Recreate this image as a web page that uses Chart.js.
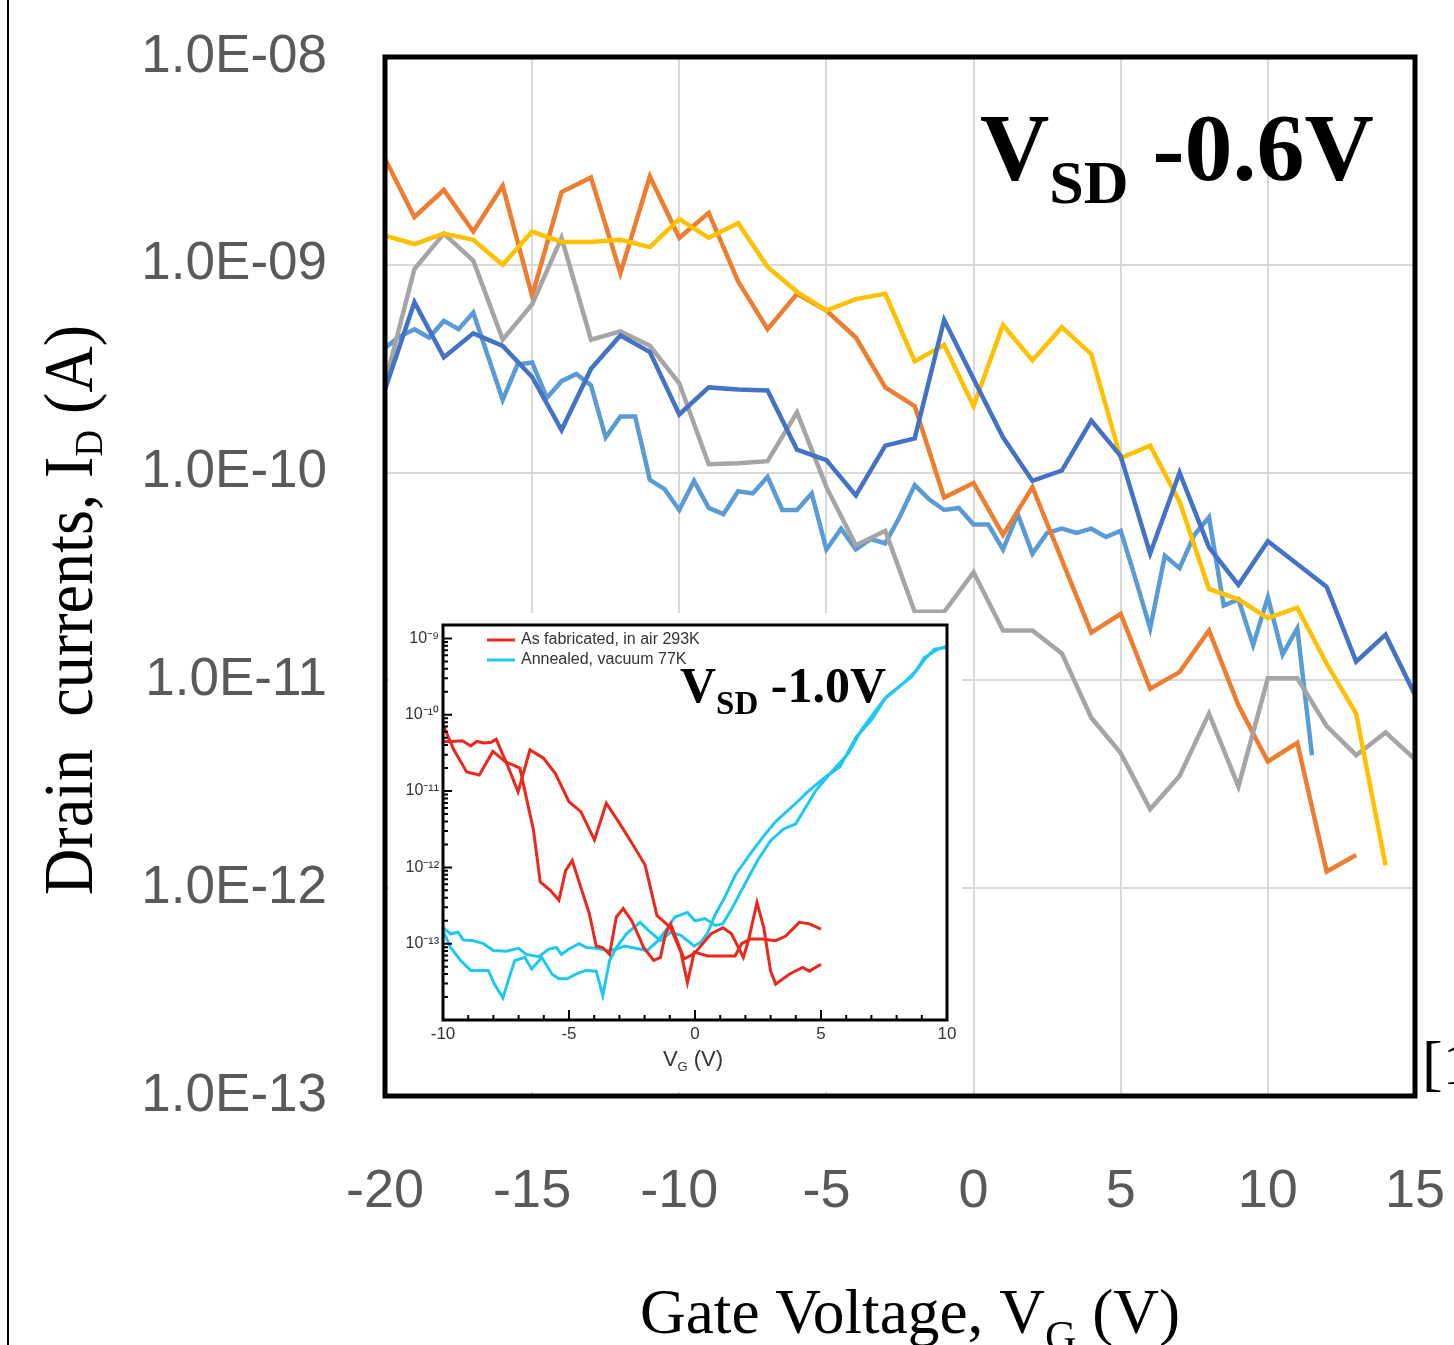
<!DOCTYPE html>
<html lang="en">
<head>
<meta charset="UTF-8" />
<title>Drain current vs gate voltage</title>
<script src="https://cdn.jsdelivr.net/npm/chart.js"></script>
<style>
  html, body { margin: 0; padding: 0; background: #fff; }
  #wrap { position: relative; width: 1454px; height: 1345px; overflow: hidden; }
  #mainChart { position: absolute; left: 0; top: 0; }
  #insetChart { position: absolute; left: 389px; top: 613px; background: #fff; }
</style>
</head>
<body>
<div id="wrap">
  <canvas id="mainChart" width="1454" height="1345"></canvas>
  <canvas id="insetChart" width="573" height="479"></canvas>
</div>
<script>
// ---- main chart data (log10 of drain current, A) ----
var vgSteps = [-20,-19,-18,-17,-16,-15,-14,-13,-12,-11,-10,-9,-8,-7,-6,-5,-4,-3,-2,-1,0,1,2,3,4,5,6,7,8,9,10,11,12,13,14,15];
var vgHalfSteps = [-20,-19.5,-19,-18.5,-18,-17.5,-17,-16.5,-16,-15.5,-15,-14.5,-14,-13.5,-13,-12.5,-12,-11.5,-11,-10.5,
  -10,-9.5,-9,-8.5,-8,-7.5,-7,-6.5,-6,-5.5,-5,-4.5,-4,-3.5,-3,-2.5,-2,-1.5,-1,-0.5,
  0,0.5,1,1.5,2,2.5,3,3.5,4,4.5,5,5.5,6,6.5,7,7.5,8,8.5,9,9.5,10,10.5,11,11.5];

var logIdOrange = [-8.49,-8.77,-8.64,-8.84,-8.62,-9.15,-8.65,-8.58,-9.04,-8.575,-8.87,-8.75,-9.08,-9.31,-9.14,-9.22,-9.35,-9.59,
  -9.68,-10.12,-10.05,-10.30,-10.07,-10.42,-10.77,-10.68,-11.04,-10.96,-10.76,-11.12,-11.39,-11.30,-11.92,-11.84];
var logIdYellow = [-8.86,-8.90,-8.85,-8.88,-9.00,-8.84,-8.89,-8.89,-8.88,-8.915,-8.78,-8.87,-8.80,-9.01,-9.13,-9.22,-9.165,-9.14,
  -9.465,-9.385,-9.68,-9.29,-9.46,-9.30,-9.43,-9.93,-9.87,-10.14,-10.56,-10.61,-10.70,-10.65,-10.92,-11.16,-11.89];
var logIdGray = [-9.57,-9.02,-8.85,-8.98,-9.36,-9.19,-8.87,-9.36,-9.32,-9.39,-9.57,-9.96,-9.955,-9.945,-9.71,-10.07,-10.35,-10.28,
  -10.67,-10.67,-10.48,-10.76,-10.76,-10.87,-11.18,-11.35,-11.62,-11.46,-11.16,-11.51,-10.99,-10.99,-11.22,-11.36,-11.25,-11.38];
var logIdDarkBlue = [-9.60,-9.18,-9.445,-9.33,-9.39,-9.54,-9.795,-9.50,-9.34,-9.42,-9.72,-9.59,-9.60,-9.605,-9.89,-9.94,-10.11,-9.87,
  -9.835,-9.265,-9.55,-9.83,-10.04,-9.99,-9.75,-9.92,-10.39,-10.00,-10.36,-10.54,-10.33,-10.44,-10.55,-10.91,-10.78,-11.07];
var logIdLightBlue = [-9.40,-9.345,-9.31,-9.35,-9.27,-9.31,-9.23,-9.44,-9.65,-9.48,
  -9.47,-9.64,-9.56,-9.525,-9.58,-9.83,-9.73,-9.73,-10.035,-10.08,
  -10.18,-10.04,-10.17,-10.20,-10.09,-10.10,-10.02,-10.18,-10.18,-10.10,
  -10.37,-10.27,-10.37,-10.32,-10.34,-10.21,-10.06,-10.13,-10.18,-10.17,
  -10.25,-10.25,-10.37,-10.20,-10.39,-10.29,-10.27,-10.29,-10.27,-10.31,
  -10.28,-10.51,-10.75,-10.40,-10.46,-10.30,-10.215,-10.64,-10.61,-10.83,
  -10.60,-10.875,-10.75,-11.36];

var xTickValues = [-20,-15,-10,-5,0,5,10,15];
var yTickValues = [1e-13,1e-12,1e-11,1e-10,1e-9,1e-8];
var yTickLabels = ["1.0E-13","1.0E-12","1.0E-11","1.0E-10","1.0E-09","1.0E-08"];

// ---- inset data: [V_G, log10 I_D] ----
var redSweepA = [[-10,-10.35],[-9.64,-10.35],[-9.23,-10.34],[-8.9,-10.41],[-8.66,-10.35],[-8.36,-10.37],[-8.09,-10.36],
  [-7.89,-10.32],[-7.42,-10.68],[-7.02,-11.01],[-6.55,-10.46],[-6.01,-10.57],[-5.54,-10.77],[-5.0,-11.14],[-4.53,-11.27],
  [-3.99,-11.64],[-3.52,-11.16],[-2.98,-11.43],[-2.45,-11.71],[-1.98,-11.97],[-1.51,-12.63],[-0.97,-12.79],[-0.56,-13.11],
  [-0.3,-13.51],[-0.03,-13.11],[0.51,-13.16],[1.59,-13.16],[1.85,-13.0],[2.19,-12.94],[2.66,-12.94],[3.2,-12.96],
  [3.6,-12.90],[4.14,-12.72],[4.54,-12.74],[5.0,-12.81]];
var redSweepB = [[-10,-10.13],[-9.57,-10.46],[-9.06,-10.75],[-8.56,-10.79],[-8.02,-10.48],[-7.55,-10.61],[-6.95,-10.70],
  [-6.61,-11.21],[-6.41,-11.51],[-6.14,-12.19],[-5.74,-12.30],[-5.40,-12.43],[-5.13,-12.04],[-4.87,-11.91],[-4.60,-12.19],
  [-4.19,-12.61],[-3.92,-13.03],[-3.66,-13.05],[-3.39,-13.14],[-3.12,-12.65],[-2.85,-12.54],[-2.51,-12.70],[-2.18,-12.94],
  [-2.04,-13.05],[-1.64,-13.22],[-1.37,-13.18],[-1.17,-12.87],[-0.97,-12.74],[-0.43,-13.20],[-0.03,-13.13],[0.64,-12.87],
  [1.11,-12.79],[1.45,-12.87],[1.92,-13.18],[2.12,-12.96],[2.46,-12.46],[2.73,-12.79],[3.0,-13.36],[3.2,-13.53],
  [3.74,-13.40],[4.27,-13.31],[4.54,-13.36],[5.0,-13.27]];
var cyanSweepA = [[-10,-12.79],[-9.7,-12.87],[-9.4,-12.85],[-9.2,-12.95],[-8.8,-12.96],[-8.4,-13.0],[-8.0,-13.09],[-7.5,-13.10],
  [-7.0,-13.06],[-6.7,-13.14],[-6.2,-13.17],[-5.8,-13.07],[-5.5,-13.05],[-5.3,-13.14],[-5.0,-13.07],[-4.6,-13.0],[-4.3,-13.05],
  [-3.9,-13.06],[-3.5,-13.09],[-3.1,-13.07],[-2.8,-13.03],[-2.2,-13.07],[-1.9,-13.09],[-1.5,-12.97],[-1.1,-12.80],[-0.8,-12.65],
  [-0.3,-12.59],[0.0,-12.70],[0.4,-12.67],[0.8,-12.76],[1.1,-12.74],[1.45,-12.55],[1.85,-12.3],[2.5,-11.9],[3.0,-11.65],
  [3.5,-11.5],[4.0,-11.43],[4.8,-10.99],[5.6,-10.68],[6.1,-10.5],[6.6,-10.2],[7.5,-9.8],[8.3,-9.58],[8.8,-9.41],[9.1,-9.25],
  [9.65,-9.14],[10,-9.1]];
var cyanSweepB = [[-10,-12.83],[-9.7,-13.05],[-9.3,-13.22],[-8.9,-13.35],[-8.2,-13.35],[-7.96,-13.53],[-7.62,-13.71],[-7.42,-13.49],
  [-7.15,-13.22],[-6.75,-13.18],[-6.48,-13.33],[-6.08,-13.18],[-5.67,-13.40],[-5.40,-13.46],[-5.07,-13.46],[-4.73,-13.40],
  [-4.33,-13.35],[-3.92,-13.36],[-3.66,-13.68],[-3.39,-13.22],[-3.12,-13.05],[-2.72,-12.87],[-2.18,-12.72],[-1.77,-12.85],
  [-1.37,-12.96],[-0.97,-12.85],[-0.56,-12.89],[-0.03,-13.03],[0.24,-12.98],[0.51,-12.85],[0.8,-12.62],[1.2,-12.38],
  [1.6,-12.1],[2.2,-11.82],[2.7,-11.6],[3.2,-11.4],[4.0,-11.16],[4.5,-11.0],[5.2,-10.81],[5.75,-10.68],[6.4,-10.29],
  [7.0,-10.07],[7.6,-9.76],[8.6,-9.5],[9.1,-9.28],[9.5,-9.14],[10,-9.12]];

var insetXTicks = [-10,-5,0,5,10];
var insetYTicks = [1e-13,1e-12,1e-11,1e-10,1e-9];
var insetYLabels = ["10\u207B\u00B9\u00B3","10\u207B\u00B9\u00B2","10\u207B\u00B9\u00B9","10\u207B\u00B9\u2070","10\u207B\u2079"];

function toPoints(xs, logs) {
  return logs.map(function (v, i) { return { x: xs[i], y: Math.pow(10, v) }; });
}
function pairsToPoints(pairs) {
  return pairs.map(function (p) { return { x: p[0], y: Math.pow(10, p[1]) }; });
}
function lineSet(label, pts, color, width) {
  return { label: label, data: pts, borderColor: color, backgroundColor: color, borderWidth: width,
    pointRadius: 0, tension: 0, fill: false };
}
// keep tick-label overflow from pushing the plot area around
function noOverflow(s) {
  s.paddingLeft = 0; s.paddingRight = 0; s.paddingTop = 0; s.paddingBottom = 0;
}

// draws text made of pieces [text, font, baselineShift]
function drawPieces(ctx, pieces, x, y) {
  pieces.forEach(function (p) {
    ctx.font = p[1];
    ctx.fillText(p[0], x, y + p[2]);
    x += ctx.measureText(p[0]).width;
  });
}
function piecesWidth(ctx, pieces) {
  var w = 0;
  pieces.forEach(function (p) { ctx.font = p[1]; w += ctx.measureText(p[0]).width; });
  return w;
}

var mainDecor = {
  id: "mainDecor",
  beforeDraw: function (chart) {
    var c = chart.ctx;
    c.save();
    c.fillStyle = "#fff";
    c.fillRect(0, 0, chart.width, chart.height);
    c.restore();
  },
  afterDraw: function (chart) {
    var c = chart.ctx, a = chart.chartArea;
    c.save();
    // plot frame
    c.strokeStyle = "#000";
    c.lineWidth = 5;
    c.strokeRect(a.left, a.top, a.right - a.left, a.bottom - a.top);
    // left page rule
    c.fillStyle = "#000";
    c.fillRect(7, 0, 2, chart.height);

    c.textBaseline = "alphabetic";
    c.textAlign = "left";
    // V_SD -0.6V
    drawPieces(c, [["V", 'bold 96px "Liberation Serif"', 0], ["SD", 'bold 62px "Liberation Serif"', 23],
      [" -0.6V", 'bold 96px "Liberation Serif"', 0]], 980, 180);

    // y title
    var yt = [["Drain  currents, I", '70px "Liberation Serif"', 0], ["D", '40px "Liberation Serif"', 10],
      [" (A)", '70px "Liberation Serif"', 0]];
    c.save();
    c.translate(92, 895);
    c.rotate(-Math.PI / 2);
    c.scale(570 / piecesWidth(c, yt), 1);
    drawPieces(c, yt, 0, 0);
    c.restore();

    // x title
    var xt = [["Gate Voltage, V", '64px "Liberation Serif"', 0], ["G", '44px "Liberation Serif"', 18],
      [" (V)", '64px "Liberation Serif"', 0]];
    c.save();
    c.translate(640, 1333);
    c.scale(540 / piecesWidth(c, xt), 1);
    drawPieces(c, xt, 0, 0);
    c.restore();

    // cut-off citation mark
    c.font = '62px "Liberation Serif"';
    c.fillText("[1", 1422, 1084);
    c.restore();
  }
};

new Chart(document.getElementById("mainChart"), {
  type: "line",
  data: {
    datasets: [
      lineSet("Dark blue", toPoints(vgSteps, logIdDarkBlue), "#4472C4", 4.5),
      lineSet("Yellow", toPoints(vgSteps, logIdYellow), "#FFC000", 4.5),
      lineSet("Gray", toPoints(vgSteps, logIdGray), "#A5A5A5", 4.5),
      lineSet("Orange", toPoints(vgSteps, logIdOrange), "#ED7D31", 4.5),
      lineSet("Light blue", toPoints(vgHalfSteps, logIdLightBlue), "#5B9BD5", 4.5)
    ]
  },
  options: {
    responsive: false,
    animation: false,
    devicePixelRatio: 1,
    layout: { padding: { left: 0, top: 57, right: 39, bottom: 0 } },
    plugins: { legend: { display: false }, tooltip: { enabled: false } },
    scales: {
      x: {
        type: "linear", min: -20, max: 15,
        afterBuildTicks: function (s) { s.ticks = xTickValues.map(function (v) { return { value: v }; }); },
        ticks: { color: "#595959", font: { family: "Liberation Sans", size: 54 }, padding: 64, maxRotation: 0 },
        grid: { color: "#d9d9d9", lineWidth: 2, drawTicks: false },
        border: { display: false },
        afterFit: function (s) { s.height = 249; noOverflow(s); }
      },
      y: {
        type: "logarithmic", min: 1e-13, max: 1e-8,
        afterBuildTicks: function (s) { s.ticks = yTickValues.map(function (v) { return { value: v }; }); },
        ticks: {
          color: "#595959", font: { family: "Liberation Sans", size: 53 }, padding: 58,
          callback: function (v, i) { return yTickLabels[i]; }
        },
        grid: { color: "#d9d9d9", lineWidth: 2, drawTicks: false },
        border: { display: false },
        afterFit: function (s) { s.width = 385; noOverflow(s); }
      }
    }
  },
  plugins: [mainDecor]
});

// ---- inset ----
var insetDecor = {
  id: "insetDecor",
  beforeDraw: function (chart) {
    var c = chart.ctx;
    c.save();
    c.fillStyle = "#fff";
    c.fillRect(0, 0, chart.width, chart.height);
    c.restore();
  },
  afterDraw: function (chart) {
    var c = chart.ctx, a = chart.chartArea, xs = chart.scales.x, ys = chart.scales.y;
    c.save();
    c.strokeStyle = "#000";
    c.lineWidth = 3;
    c.strokeRect(a.left, a.top, a.right - a.left, a.bottom - a.top);
    // inward ticks
    c.lineWidth = 2;
    c.beginPath();
    for (var v = -10; v <= 10; v++) {
      var px = xs.getPixelForValue(v);
      var len = (v % 5 === 0) ? 10 : 5;
      c.moveTo(px, a.bottom); c.lineTo(px, a.bottom - len);
    }
    for (var d = -14; d <= -9; d++) {
      for (var m = 1; m <= 9; m++) {
        var val = m * Math.pow(10, d);
        if (val > ys.max) break;
        var py = ys.getPixelForValue(val);
        var l = (m === 1) ? 9 : 5;
        c.moveTo(a.left, py); c.lineTo(a.left + l, py);
      }
    }
    c.stroke();

    // legend
    var ds = chart.data.datasets;
    c.lineWidth = 3;
    c.textBaseline = "middle";
    c.font = '16px "Liberation Sans"';
    [[ds[0], "As fabricated, in air 293K", 27], [ds[2], "Annealed, vacuum 77K", 47]].forEach(function (e) {
      c.strokeStyle = e[0].borderColor;
      c.beginPath(); c.moveTo(98, e[2]); c.lineTo(126, e[2]); c.stroke();
      c.fillStyle = "#333";
      c.fillText(e[1], 132, e[2]);
    });

    // V_SD -1.0V
    c.fillStyle = "#000";
    c.textBaseline = "alphabetic";
    drawPieces(c, [["V", 'bold 50px "Liberation Serif"', 0], ["SD", 'bold 33px "Liberation Serif"', 12],
      [" -1.0V", 'bold 50px "Liberation Serif"', 0]], 291, 89);

    // V_G (V)
    c.fillStyle = "#333";
    var t = [["V", '22px "Liberation Sans"', 0], ["G", '13px "Liberation Sans"', 5], [" (V)", '22px "Liberation Sans"', 0]];
    drawPieces(c, t, 304 - piecesWidth(c, t) / 2, 453);
    c.restore();
  }
};

new Chart(document.getElementById("insetChart"), {
  type: "line",
  data: {
    datasets: [
      lineSet("As fabricated, in air 293K", pairsToPoints(redSweepA), "#E8291C", 3),
      lineSet("As fabricated, in air 293K (return)", pairsToPoints(redSweepB), "#E8291C", 3),
      lineSet("Annealed, vacuum 77K", pairsToPoints(cyanSweepA), "#1EC8F0", 3),
      lineSet("Annealed, vacuum 77K (return)", pairsToPoints(cyanSweepB), "#1EC8F0", 3)
    ]
  },
  options: {
    responsive: false,
    animation: false,
    devicePixelRatio: 1,
    layout: { padding: { left: 0, top: 12, right: 15, bottom: 0 } },
    plugins: { legend: { display: false }, tooltip: { enabled: false } },
    scales: {
      x: {
        type: "linear", min: -10, max: 10,
        afterBuildTicks: function (s) { s.ticks = insetXTicks.map(function (v) { return { value: v }; }); },
        ticks: { color: "#333", font: { family: "Liberation Sans", size: 17 }, padding: 4, maxRotation: 0 },
        grid: { display: false, drawTicks: false },
        border: { display: false },
        afterFit: function (s) { s.height = 72; noOverflow(s); }
      },
      y: {
        type: "logarithmic", min: 1e-14, max: 1.5e-9,
        afterBuildTicks: function (s) { s.ticks = insetYTicks.map(function (v) { return { value: v }; }); },
        ticks: {
          color: "#333", font: { family: "Liberation Sans", size: 16 }, padding: 4,
          callback: function (v, i) { return insetYLabels[i]; }
        },
        grid: { display: false, drawTicks: false },
        border: { display: false },
        afterFit: function (s) { s.width = 54; noOverflow(s); }
      }
    }
  },
  plugins: [insetDecor]
});
</script>
</body>
</html>
